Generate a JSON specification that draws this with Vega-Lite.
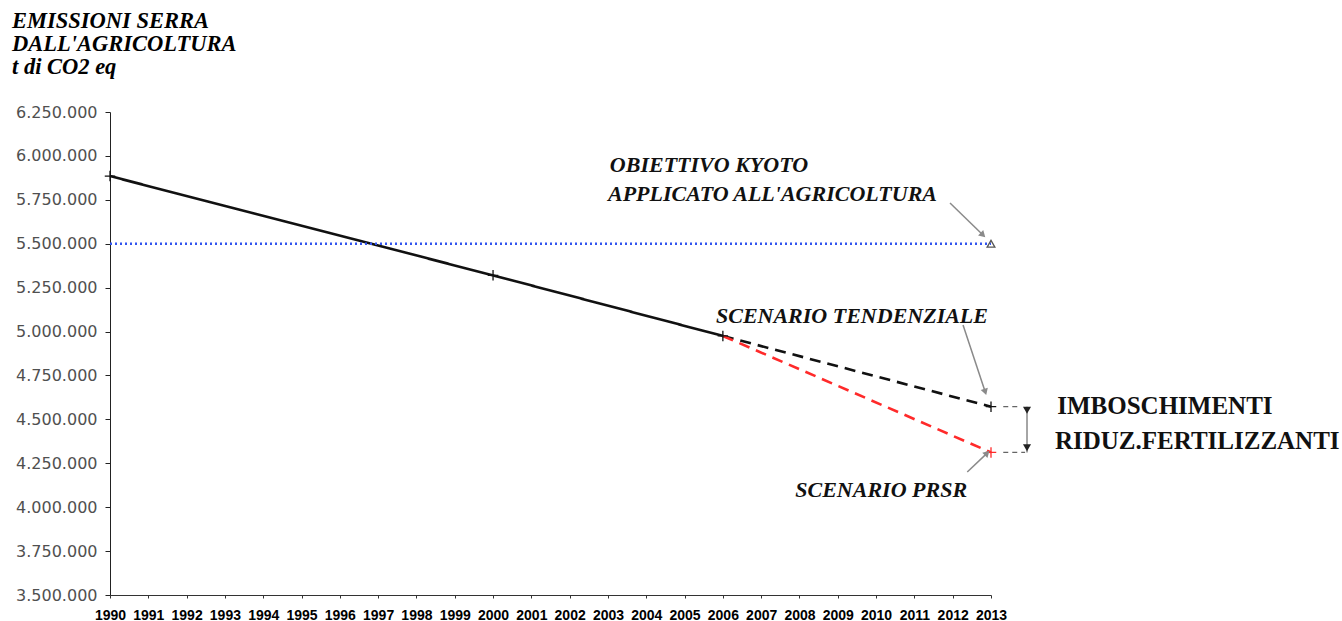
{
  "$schema": "https://vega.github.io/schema/vega-lite/v6.json",
  "width": 881,
  "height": 483,
  "autosize": {"type": "none"},
  "padding": {"left": 110, "top": 112, "right": 351, "bottom": 26},
  "background": "white",
  "config": {
    "view": {"stroke": null},
    "locale": {"number": {"decimal": ",", "thousands": ".", "grouping": [3], "currency": ["", " €"]}}
  },
  "title": {
    "text": ["EMISSIONI SERRA", "DALL'AGRICOLTURA", "t di CO2 eq"],
    "anchor": "start",
    "frame": "group",
    "dx": -98,
    "offset": 26,
    "font": "Liberation Serif",
    "fontStyle": "italic",
    "fontWeight": "bold",
    "fontSize": 22.5,
    "lineHeight": 23,
    "color": "black"
  },
  "datasets": {
    "series": [
      {"series": "storico", "year": 1990, "value": 5885000},
      {"series": "storico", "year": 2000, "value": 5320000},
      {"series": "storico", "year": 2006, "value": 4975000},
      {"series": "tendenziale", "year": 2006, "value": 4975000},
      {"series": "tendenziale", "year": 2013, "value": 4572000},
      {"series": "PRSR", "year": 2006, "value": 4975000},
      {"series": "PRSR", "year": 2013, "value": 4312000},
      {"series": "Kyoto", "year": 1990, "value": 5500000},
      {"series": "Kyoto", "year": 2013, "value": 5500000}
    ],
    "arrows": [
      {"id": "kyoto", "year": 2011.93, "value": 5732000, "year2": 2012.79, "value2": 5550000},
      {"id": "tend", "year": 2012.27, "value": 5037000, "year2": 2012.85, "value2": 4656000},
      {"id": "prsr", "year": 2012.38, "value": 4200000, "year2": 2012.9, "value2": 4308000}
    ],
    "bracket": [
      {"part": "dash", "year": 2013.32, "value": 4572000, "year2": 2013.76, "value2": 4572000},
      {"part": "dash", "year": 2013.32, "value": 4312000, "year2": 2013.89, "value2": 4312000},
      {"part": "stem", "year": 2013.94, "value": 4572000, "year2": 2013.94, "value2": 4312000}
    ],
    "bracketHeads": [
      {"year": 2013.94, "value": 4552000},
      {"year": 2013.94, "value": 4338000}
    ],
    "notes": [
      {"label": "OBIETTIVO KYOTO", "year": 2003.05, "value": 5948000},
      {"label": "APPLICATO ALL'AGRICOLTURA", "year": 2003.0, "value": 5783000},
      {"label": "SCENARIO TENDENZIALE", "year": 2005.82, "value": 5088000},
      {"label": "SCENARIO PRSR", "year": 2007.89, "value": 4098000}
    ],
    "sideNotes": [
      {"label": "IMBOSCHIMENTI", "year": 2014.73, "value": 4576000},
      {"label": "RIDUZ.FERTILIZZANTI", "year": 2014.67, "value": 4377000}
    ]
  },
  "encoding": {
    "x": {
      "field": "year",
      "type": "quantitative",
      "scale": {"domain": [1990, 2013], "nice": false, "zero": false},
      "axis": {
        "title": null,
        "values": [1990,1991,1992,1993,1994,1995,1996,1997,1998,1999,2000,2001,2002,2003,2004,2005,2006,2007,2008,2009,2010,2011,2012,2013],
        "format": "d",
        "labelFont": "Liberation Sans",
        "labelFontWeight": "bold",
        "labelFontSize": 14,
        "labelColor": "black",
        "labelOverlap": false,
        "labelFlush": false,
        "labelPadding": 10,
        "tickSize": 3,
        "tickColor": "#333",
        "domainColor": "#333",
        "grid": false
      }
    },
    "y": {
      "field": "value",
      "type": "quantitative",
      "scale": {"domain": [3500000, 6250000], "nice": false, "zero": false},
      "axis": {
        "title": null,
        "values": [3500000,3750000,4000000,4250000,4500000,4750000,5000000,5250000,5500000,5750000,6000000,6250000],
        "format": ",d",
        "labelFont": "DejaVu Sans",
        "labelFontSize": 16,
        "labelColor": "#505050",
        "labelPadding": 8,
        "tickSize": 5,
        "tickColor": "#222",
        "domainColor": "#222",
        "grid": false
      }
    }
  },
  "layer": [
    {
      "data": {"name": "series"},
      "mark": {"type": "line", "strokeWidth": 2.6},
      "encoding": {
        "detail": {"field": "series"},
        "color": {
          "field": "series",
          "type": "nominal",
          "scale": {"domain": ["storico", "tendenziale", "PRSR", "Kyoto"], "range": ["#111111", "#111111", "#ff2a2a", "#3355ee"]},
          "legend": null
        },
        "strokeDash": {
          "field": "series",
          "type": "nominal",
          "scale": {"domain": ["storico", "tendenziale", "PRSR", "Kyoto"], "range": [[1, 0], [11, 7], [11, 7], [2, 3]]},
          "legend": null
        }
      }
    },
    {
      "data": {"name": "series"},
      "transform": [{"filter": "datum.series != 'Kyoto' && !(datum.year == 2006 && datum.series != 'storico')"}],
      "mark": {"type": "point", "shape": "M-1,0H1M0,-1V1", "filled": false, "size": 110, "strokeWidth": 1.3, "opacity": 1},
      "encoding": {
        "color": {
          "field": "series",
          "type": "nominal",
          "scale": {"domain": ["storico", "tendenziale", "PRSR", "Kyoto"], "range": ["#333333", "#333333", "#ff2a2a", "#3355ee"]},
          "legend": null
        }
      }
    },
    {
      "data": {"name": "series"},
      "transform": [{"filter": "datum.series == 'Kyoto' && datum.year == 2013"}],
      "mark": {"type": "point", "shape": "triangle-up", "filled": false, "size": 60, "color": "#555555", "strokeWidth": 1.3, "opacity": 1}
    },
    {
      "data": {"name": "arrows"},
      "mark": {"type": "rule", "color": "#8a8a8a", "strokeWidth": 1.5},
      "encoding": {"x2": {"field": "year2"}, "y2": {"field": "value2"}}
    },
    {
      "data": {"name": "arrows"},
      "transform": [{"filter": "datum.id == 'kyoto'"}],
      "mark": {"type": "point", "shape": "triangle-up", "filled": true, "size": 55, "color": "#8a8a8a", "angle": 134, "opacity": 1},
      "encoding": {"x": {"field": "year2", "type": "quantitative"}, "y": {"field": "value2", "type": "quantitative"}}
    },
    {
      "data": {"name": "arrows"},
      "transform": [{"filter": "datum.id == 'tend'"}],
      "mark": {"type": "point", "shape": "triangle-up", "filled": true, "size": 55, "color": "#8a8a8a", "angle": 162, "opacity": 1},
      "encoding": {"x": {"field": "year2", "type": "quantitative"}, "y": {"field": "value2", "type": "quantitative"}}
    },
    {
      "data": {"name": "arrows"},
      "transform": [{"filter": "datum.id == 'prsr'"}],
      "mark": {"type": "point", "shape": "triangle-up", "filled": true, "size": 55, "color": "#8a8a8a", "angle": 46, "opacity": 1},
      "encoding": {"x": {"field": "year2", "type": "quantitative"}, "y": {"field": "value2", "type": "quantitative"}}
    },
    {
      "data": {"name": "bracket"},
      "transform": [{"filter": "datum.part == 'dash'"}],
      "mark": {"type": "rule", "color": "#666666", "strokeWidth": 1.2, "strokeDash": [5, 4]},
      "encoding": {"x2": {"field": "year2"}, "y2": {"field": "value2"}}
    },
    {
      "data": {"name": "bracket"},
      "transform": [{"filter": "datum.part == 'stem'"}],
      "mark": {"type": "rule", "color": "#888888", "strokeWidth": 1.5},
      "encoding": {"x2": {"field": "year2"}, "y2": {"field": "value2"}}
    },
    {
      "data": {"name": "bracketHeads"},
      "mark": {"type": "point", "shape": "triangle-down", "filled": true, "size": 65, "color": "#222222", "opacity": 1}
    },
    {
      "data": {"name": "notes"},
      "mark": {"type": "text", "align": "left", "baseline": "middle", "font": "Liberation Serif", "fontStyle": "italic", "fontWeight": "bold", "fontSize": 22, "color": "#111111"},
      "encoding": {"text": {"field": "label"}}
    },
    {
      "data": {"name": "sideNotes"},
      "mark": {"type": "text", "align": "left", "baseline": "middle", "font": "Liberation Serif", "fontWeight": "bold", "fontSize": 25, "color": "#111111"},
      "encoding": {"text": {"field": "label"}}
    }
  ]
}
